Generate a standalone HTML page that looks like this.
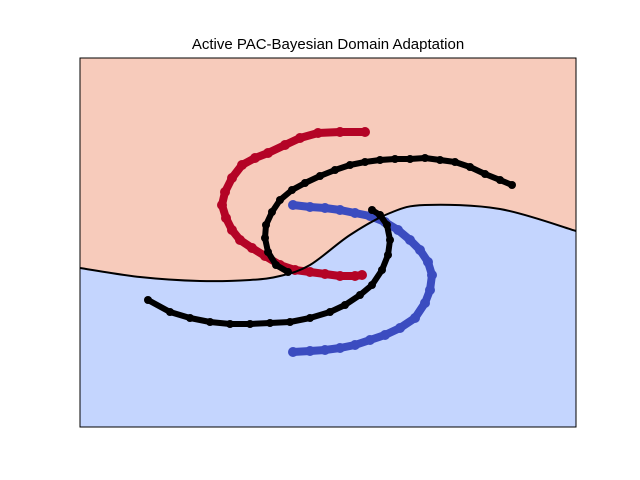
<!DOCTYPE html>
<html><head><meta charset="utf-8"><style>
body{margin:0;background:#fff;}
svg{display:block;font-family:"Liberation Sans",sans-serif;}
</style></head><body>
<svg width="640" height="480">
<text x="328" y="49" text-anchor="middle" font-size="15">Active PAC-Bayesian Domain Adaptation</text>
<g id="plot"></g>
<rect x="80" y="58" width="496" height="369" fill="none" stroke="#000" stroke-width="1"/>
</svg>
<script>
// data coordinates: x in [0,496], y in [0,369] (y up)
const boundaryX=[0,60,120,170,200,230,270,310,345,420,496];
const boundaryY=[159,150,146,147,151,162,192,214,222,218,196];
const redX=[285,260,238,220,205,188,175,162,152,145,142,146,152,160,172,185,200,215,230,245,260,275,282];
const redY=[295,295,294,289,282,274,269,262,249,235,222,209,197,187,179,171,162,157,155,153,151,151,152];
const blueX=[213,230,245,260,275,290,305,318,330,340,348,352,350,345,335,320,305,290,275,260,245,230,213];
const blueY=[222,220,219,217,214,211,205,197,187,177,165,152,137,124,109,99,92,87,82,79,77,76,75];
const black1X=[432,420,405,390,375,360,345,330,315,300,285,270,255,240,225,212,200,192,186,185,188,196,208];
const black1Y=[242,247,253,260,265,267,269,268,268,267,265,262,257,251,244,237,227,215,202,189,175,162,155];
const black2X=[68,90,110,130,150,170,190,210,230,250,265,280,292,302,308,310,307,300,292];
const black2Y=[127,115,109,105,103,103,104,105,109,115,122,132,142,157,172,187,202,212,217];

const ox=80,oy=427,sx=v=>ox+v,sy=v=>oy-v;
const NS="http://www.w3.org/2000/svg";
const g=document.getElementById('plot');
function mk(t,a){const e=document.createElementNS(NS,t);for(const k in a)e.setAttribute(k,a[k]);return e;}
const P=boundaryX.map((x,i)=>[sx(x),sy(boundaryY[i])]);
let d="M"+P[0][0]+","+P[0][1];
for(let i=0;i<P.length-1;i++){
  const p0=P[Math.max(0,i-1)],p1=P[i],p2=P[i+1],p3=P[Math.min(P.length-1,i+2)];
  const c1=[p1[0]+(p2[0]-p0[0])/6,p1[1]+(p2[1]-p0[1])/6];
  const c2=[p2[0]-(p3[0]-p1[0])/6,p2[1]-(p3[1]-p1[1])/6];
  d+=` C${c1[0]},${c1[1]} ${c2[0]},${c2[1]} ${p2[0]},${p2[1]}`;
}
const regionTop=mk('path',{d:d+` L576,58 L80,58 Z`,fill:'#f7cbbb'});


g.appendChild(regionTop);
const regionBot=mk('path',{d:d+` L576,427 L80,427 Z`,fill:'#c4d5fe'});


g.appendChild(regionBot);
function series(xs,ys,col,r,name){
  let p="";xs.forEach((x,i)=>p+=(i?"L":"M")+sx(x)+","+sy(ys[i]));
  const l=mk('path',{d:p,fill:'none',stroke:col,'stroke-width':r*2,'stroke-linejoin':'round','stroke-linecap':'round'});
  
  
  g.appendChild(l);
  xs.forEach((x,i)=>{const c=mk('circle',{cx:sx(x),cy:sy(ys[i]),r:r+1,fill:col});
  
  
  g.appendChild(c);});
}
series(redX,redY,'#b40426',4,'red-source');
series(blueX,blueY,'#3b4cc0',4,'blue-source');
series(black1X,black1Y,'#000',3,'target-upper');
series(black2X,black2Y,'#000',3,'target-lower');
const b=mk('path',{d:d,fill:'none',stroke:'#000','stroke-width':2});


g.appendChild(b);
</script>
</body></html>
